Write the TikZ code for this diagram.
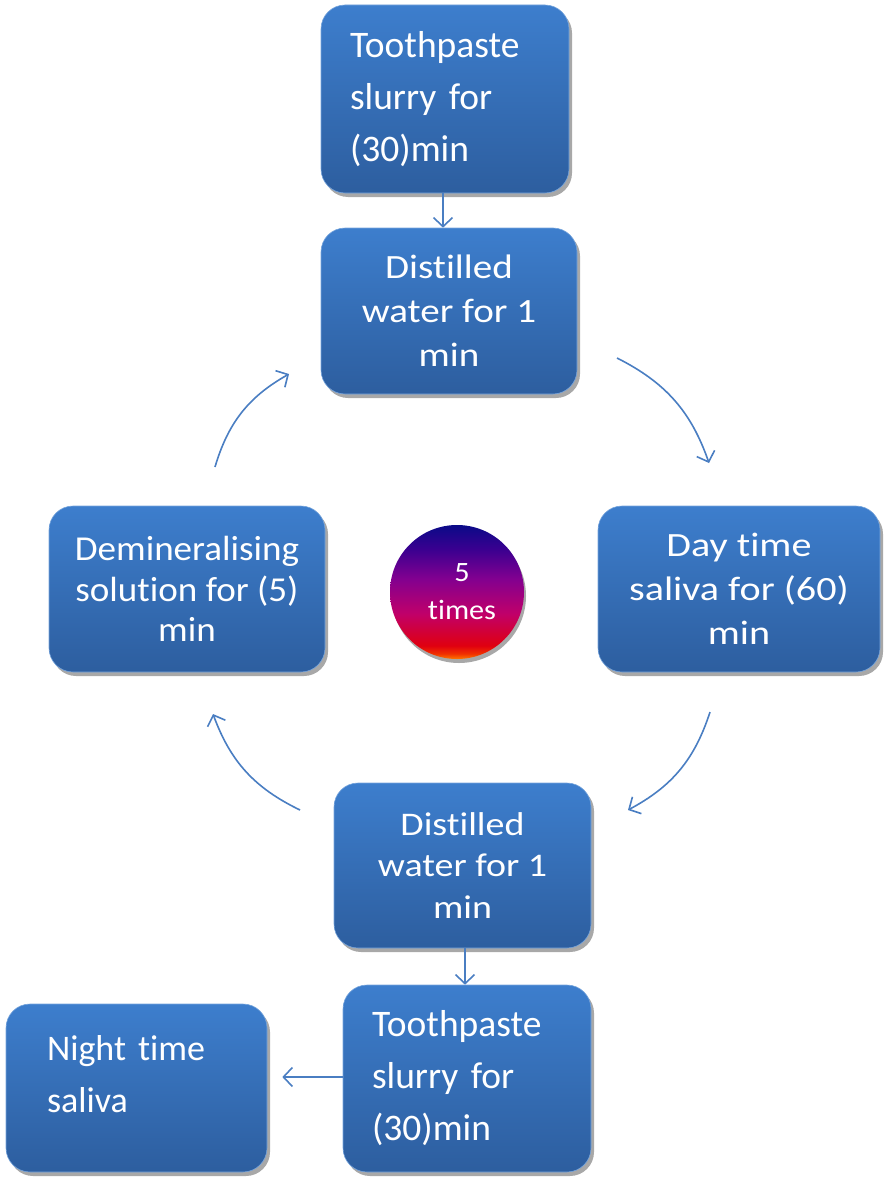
\documentclass[tikz,border=0pt]{standalone}
\usepackage{fontspec}
\setmainfont{Carlito}[Ligatures=CommonOff]
\newfontfamily\fA{Carlito}[Ligatures=CommonOff, WordSpace=0.85]
\newfontfamily\fB{Carlito}[Ligatures=CommonOff, FakeStretch=1.15]
\newfontfamily\fC{Carlito}[Ligatures=CommonOff, FakeStretch=1.18]
\newfontfamily\fD{Carlito}[Ligatures=CommonOff, FakeStretch=1.06]
\newfontfamily\fE{Carlito}[Ligatures=CommonOff, FakeStretch=1.08]
\usetikzlibrary{arrows.meta}
\definecolor{boxtop}{HTML}{3D7ECD}
\definecolor{boxbot}{HTML}{2D5E9F}
\definecolor{arrowc}{HTML}{4A7EC2}
\definecolor{shadowc}{HTML}{A8A8A8}
\definecolor{sh1}{HTML}{FF7A00}
\definecolor{sh2}{HTML}{F03000}
\definecolor{sh3}{HTML}{E00010}
\definecolor{sh4}{HTML}{C0006A}
\definecolor{sh5}{HTML}{820090}
\definecolor{sh6}{HTML}{3A0090}
\definecolor{sh7}{HTML}{0A0A88}
\pgfdeclareverticalshading{ballshade}{100bp}{
  color(0bp)=(sh1);
  color(25bp)=(sh1);
  color(27bp)=(sh2);
  color(30bp)=(sh3);
  color(42bp)=(sh4);
  color(55bp)=(sh5);
  color(66bp)=(sh6);
  color(75bp)=(sh7);
  color(100bp)=(sh7)}
\tikzset{
  x=1pt, y=-1pt,
  boxnode/.style={rounded corners=24pt, shading=axis, top color=boxtop, bottom color=boxbot,
    draw=boxtop!70!white, line width=0.6pt, text=white, inner sep=0pt,
    preaction={fill=shadowc, transform canvas={xshift=3pt,yshift=-4pt}}},
  lbl/.style={text=white, inner sep=0pt},
  conn/.style={draw=arrowc, line width=1.6pt, -{Straight Barb[length=9pt,width=19pt,line width=1.6pt]}}
}
\begin{document}
\begin{tikzpicture}
\useasboundingbox (0,0) rectangle (883,1180);
% boxes
\node[boxnode, minimum width=248pt, minimum height=188pt] (b1) at (445,99) {};
\node[lbl, text width=190pt, align=left, font=\fA\fontsize{37.5}{52}\selectfont] (b1t) at (b1.center) {Toothpaste\\slurry for\\(30)min};

\node[boxnode, minimum width=256pt, minimum height=166pt, align=center, font=\fB\fontsize{34}{44}\selectfont] (b2) at (449,311) {Distilled\\water for 1\\min};

\node[boxnode, minimum width=282pt, minimum height=166pt, align=center, font=\fC\fontsize{34}{44}\selectfont] (b3) at (739,589) {Day time\\saliva for (60)\\min};

\node[boxnode, minimum width=276pt, minimum height=166pt, align=center, font=\fD\fontsize{35}{40.5}\selectfont] (b4) at (187,589) {Demineralising\\solution for (5)\\min};

\node[boxnode, minimum width=257pt, minimum height=165pt, align=center, font=\fB\fontsize{33}{41.5}\selectfont] (b5) at (462.5,865.5) {Distilled\\water for 1\\min};

\node[boxnode, minimum width=248pt, minimum height=187pt] (b6) at (467,1078.5) {};
\node[lbl, text width=190pt, align=left, font=\fA\fontsize{37.5}{52}\selectfont] (b6t) at (b6.center) {Toothpaste\\slurry for\\(30)min};

\node[boxnode, minimum width=261pt, minimum height=168pt] (b7) at (136.5,1088) {};
\node[lbl, text width=179pt, align=left, font=\fA\fontsize{36}{52}\selectfont] (b7t) at (136.5,1074) {Night time\\saliva};

% circle
\node[circle, minimum size=134pt, inner sep=0pt, shading=ballshade, text=white, align=center,
  font=\fE\fontsize{28}{38}\selectfont,
  preaction={fill=shadowc, transform canvas={xshift=2pt,yshift=-4pt}}] (c) at (457,592) {\hspace*{10pt}5\\\hspace*{10pt}times};

% connectors
\coordinate (t1) at (443,0); \coordinate (t2) at (465,0); \coordinate (t3) at (0,1077);
\coordinate (b7e) at ([xshift=15pt]b7.east);
\draw[conn] (b1.south -| t1) -- (b2.north -| t1);
\coordinate (a1s) at (617,358); \coordinate (a1e) at (709,463);
\coordinate (a2s) at (710,712); \coordinate (a2e) at (628,810);
\coordinate (a3s) at (300,810); \coordinate (a3e) at (213,714);
\coordinate (a4s) at (215,467); \coordinate (a4e) at (289,374);
\draw[conn] (a1s) to[bend left=22] (a1e);
\draw[conn] (a2s) to[bend left=22] (a2e);
\draw[conn] (a3s) to[bend left=22] (a3e);
\draw[conn] (a4s) to[bend left=22] (a4e);
\draw[conn] (b5.south -| t2) -- (b6.north -| t2);
\draw[conn] (b6.west |- t3) -- (b7e |- t3);
\end{tikzpicture}
\end{document}
